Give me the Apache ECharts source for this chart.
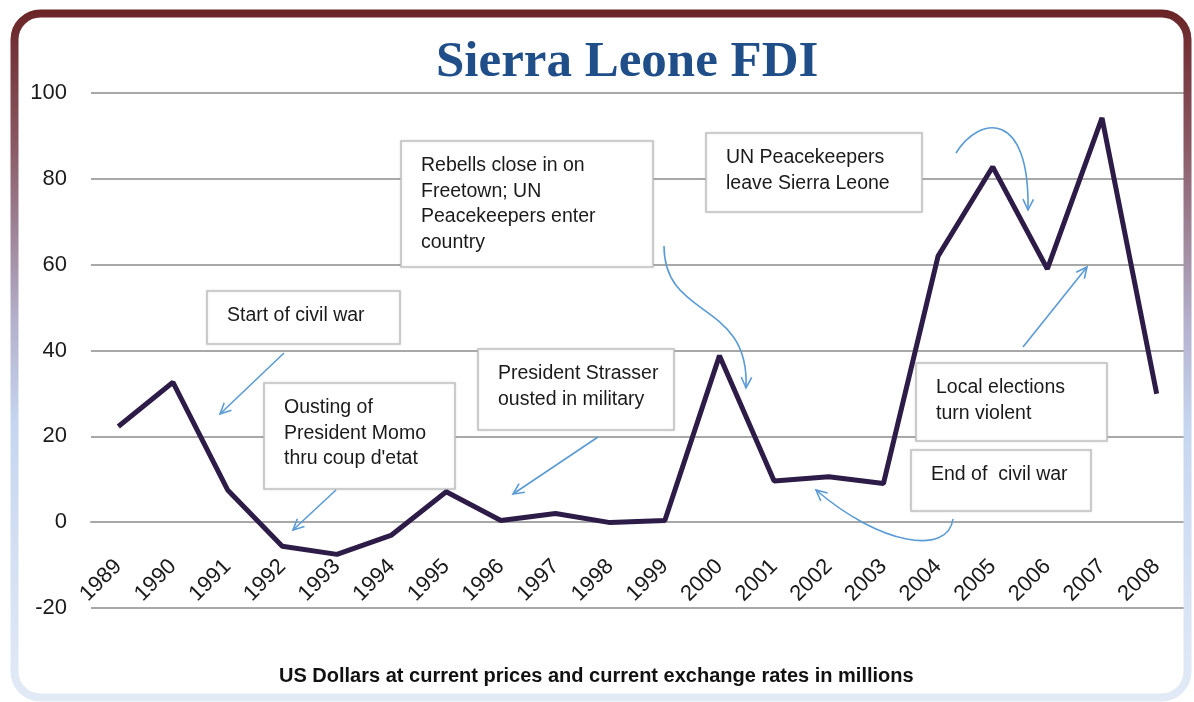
<!DOCTYPE html>
<html>
<head>
<meta charset="utf-8">
<script src="https://cdn.jsdelivr.net/npm/echarts@6/dist/echarts.min.js"></script>
<style>
  html, body {margin: 0; padding: 0; background: #fff;}
  #chart {width: 1194px; height: 702px;}
</style>
</head>
<body>
<div id="chart"></div>
<script>
// data
const years = ['1989', '1990', '1991', '1992', '1993', '1994', '1995', '1996', '1997', '1998',
    '1999', '2000', '2001', '2002', '2003', '2004', '2005', '2006', '2007', '2008']
const fdi = [22.3, 32.6, 7.5, -5.6, -7.5, -3, 7.1, 0.4, 2, -0.1,
    0.4, 38.8, 9.6, 10.6, 9, 62, 82.8, 59, 94.2, 29.9]
const yTicks = {min: -20, max: 100, step: 20}

const notes = [
    {text: 'Start of civil war', box: [207, 291, 193, 53], arrow: [[284, 353], [220, 414]]},
    {text: 'Ousting of\nPresident Momo\nthru coup d\'etat', box: [264, 383, 191, 106], arrow: [[336, 490], [293, 530]]},
    {text: 'President Strasser\nousted in military', box: [478, 349, 196, 81], arrow: [[598, 437], [513, 494]]},
    {text: 'Rebells close in on\nFreetown; UN\nPeacekeepers enter\ncountry', box: [401, 141, 252, 126],
        curve: [664, 246, 664, 320, 750, 300, 746, 388]},
    {text: 'UN Peacekeepers\nleave Sierra Leone', box: [706, 133, 216, 79],
        curve: [956, 153, 980, 115, 1030, 110, 1028, 210]},
    {text: 'Local elections\nturn violent', box: [916, 363, 191, 78], arrow: [[1023, 347], [1087, 267]]},
    {text: 'End of  civil war', box: [911, 450, 180, 61],
        curve: [953, 519, 948, 556, 880, 545, 816, 490]},
]

const blue = '#5b9bd5'
const grey = '#a8a8a8'

const head = (tip, from) => {
    const a = Math.atan2(tip[1] - from[1], tip[0] - from[0])
    const len = 12
    const p1 = [tip[0] - len * Math.cos(a - 0.45), tip[1] - len * Math.sin(a - 0.45)]
    const p2 = [tip[0] - len * Math.cos(a + 0.45), tip[1] - len * Math.sin(a + 0.45)]
    return {type: 'polyline', z: 3, shape: {points: [p1, tip, p2]}, style: {stroke: blue, lineWidth: 1.6, fill: null}}
}

const graphics = [
    {
        type: 'rect', z: 1,
        shape: {x: 14.5, y: 13.5, width: 1173, height: 684, r: 26},
        style: {
            fill: null,
            lineWidth: 8,
            stroke: new echarts.graphic.LinearGradient(0, 0, 0, 1, [
                {offset: 0, color: '#6a2426'},
                {offset: 0.2, color: '#8a5a66'},
                {offset: 0.45, color: '#b4b0cc'},
                {offset: 0.6, color: '#c6d6f0'},
                {offset: 1, color: '#e2eaf6'},
            ]),
        },
    },
]

notes.forEach((n) => {
    const [x, y, w, h] = n.box
    graphics.push({
        type: 'rect', z: 1,
        shape: {x, y, width: w, height: h},
        style: {fill: '#fff', stroke: '#c4c4c4', lineWidth: 1.6, shadowBlur: 2, shadowColor: 'rgba(0,0,0,0.12)'},
    })
    graphics.push({
        type: 'text', z: 1,
        x: x + 20, y: y + 12,
        style: {text: n.text, font: '19.5px "Liberation Sans"', fill: '#1a1a1a', lineHeight: 25.5},
    })
    if (n.arrow) {
        const [p0, p1] = n.arrow
        graphics.push({type: 'line', z: 3, shape: {x1: p0[0], y1: p0[1], x2: p1[0], y2: p1[1]},
            style: {stroke: blue, lineWidth: 1.6}})
        graphics.push(head(p1, p0))
    } else {
        const c = n.curve
        graphics.push({type: 'bezierCurve', z: 3,
            shape: {x1: c[0], y1: c[1], cpx1: c[2], cpy1: c[3], cpx2: c[4], cpy2: c[5], x2: c[6], y2: c[7]},
            style: {stroke: blue, lineWidth: 1.6, fill: null}})
        graphics.push(head([c[6], c[7]], [c[4], c[5]]))
    }
})

const myChart = echarts.init(document.getElementById('chart'))
myChart.setOption({
    animation: false,
    title: [
        {
            text: 'Sierra Leone FDI',
            left: 431,
            top: 32,
            textStyle: {fontFamily: 'Liberation Serif', fontSize: 51, fontWeight: 'bold', color: '#1f4e89'},
        },
        {
            text: 'US Dollars at current prices and current exchange rates in millions',
            left: 274,
            top: 661,
            textStyle: {fontFamily: 'Liberation Sans', fontSize: 20, fontWeight: 'bold', color: '#111'},
        },
    ],
    grid: {left: 91, right: 10, top: 93, bottom: 94},
    xAxis: {
        type: 'category',
        data: years,
        axisLine: {onZero: true, lineStyle: {color: grey, width: 2}},
        axisTick: {show: false},
        axisLabel: {rotate: 45, margin: -45, fontSize: 22, fontFamily: 'Liberation Sans', color: '#1a1a1a',
            interval: 0, hideOverlap: false},
    },
    yAxis: {
        type: 'value',
        min: yTicks.min,
        max: yTicks.max,
        interval: yTicks.step,
        axisLine: {show: false},
        axisTick: {show: false},
        axisLabel: {margin: 24, fontSize: 22, fontFamily: 'Liberation Sans', color: '#1a1a1a'},
        splitLine: {lineStyle: {color: grey, width: 2}},
    },
    series: [{
        type: 'line',
        data: fdi,
        showSymbol: false,
        lineStyle: {color: '#2e1c48', width: 5},
        z: 2,
    }],
    graphic: graphics,
})
</script>
</body>
</html>
